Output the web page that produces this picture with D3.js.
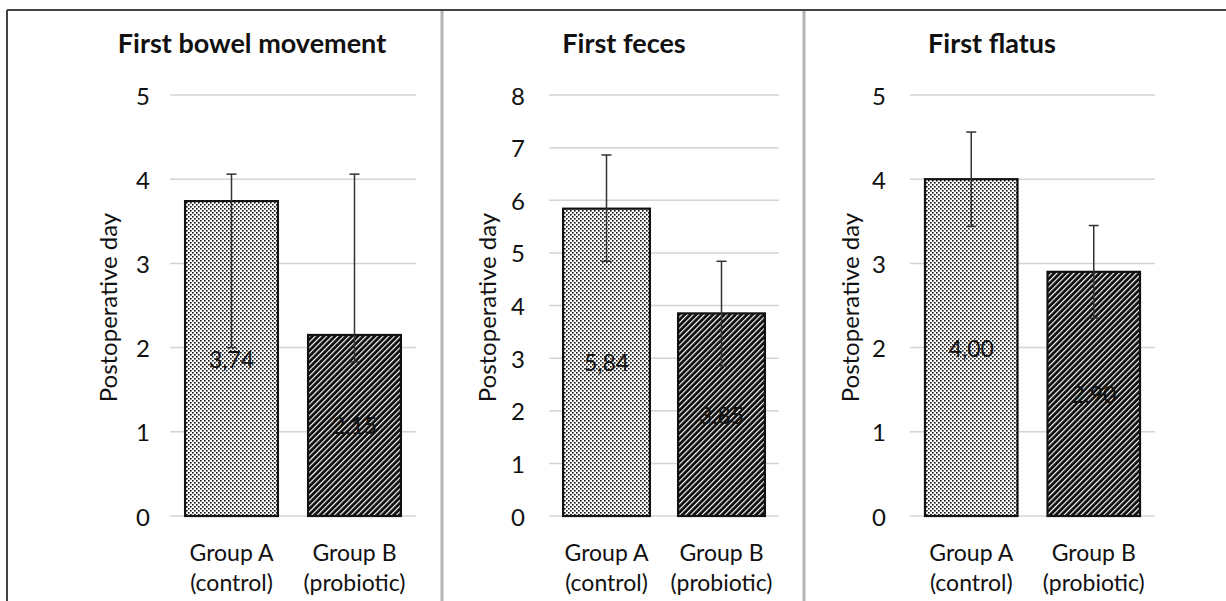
<!DOCTYPE html>
<html>
<head>
<meta charset="utf-8">
<script src="https://cdn.jsdelivr.net/npm/d3@7"></script>
<style>
  html, body { margin: 0; padding: 0; background: #fff; }
  svg { display: block; }
  text { font-family: Lato, "Open Sans", sans-serif; fill: #111; }
</style>
</head>
<body>
<svg id="chart" width="1226" height="601"></svg>
<script>
// Time to first bowel movement, feces and flatus after surgery (mean with range bars)
const panelTitles = ["First bowel movement", "First feces", "First flatus"];
const groupLine1 = ["Group A", "Group B"];
const groupLine2 = ["(control)", "(probiotic)"];
const means      = [[3.74, 2.15], [5.84, 3.85], [4.00, 2.90]];
const errUpper   = [[4.06, 4.06], [6.86, 4.84], [4.56, 3.45]];
const errLower   = [[2.00, 1.83], [4.84, 2.85], [3.44, 2.35]];
const yMax       = [5, 8, 5];
const yTitle     = "Postoperative day";

// Panel geometry (plot area left/right, title centre, tick-label and axis-title x)
const layout = [
  { left: 170, right: 416, titleX: 252, tickX: 150, axisX: 107 },
  { left: 549, right: 779, titleX: 624, tickX: 525, axisX: 486 },
  { left: 910, right: 1155, titleX: 992, tickX: 886, axisX: 849 }
];
const yBottom = 516, yTop = 95;

const svg = d3.select("#chart");
const defs = svg.append("defs");

// Dotted fill for the control group
const dots = defs.append("pattern")
  .attr("id", "dots").attr("patternUnits", "userSpaceOnUse")
  .attr("width", 4).attr("height", 4);
dots.append("rect").attr("width", 4).attr("height", 4).attr("fill", "#fff");
dots.append("rect").attr("x", 0).attr("y", 0).attr("width", 1.6).attr("height", 1.6).attr("fill", "#111");
dots.append("rect").attr("x", 2).attr("y", 2).attr("width", 1.6).attr("height", 1.6).attr("fill", "#111");

// Dense diagonal hatch for the probiotic group
const hatch = defs.append("pattern")
  .attr("id", "hatch").attr("patternUnits", "userSpaceOnUse")
  .attr("width", 4).attr("height", 4)
  .attr("patternTransform", "rotate(45)");
hatch.append("rect").attr("width", 4).attr("height", 4).attr("fill", "#0a0a0a");
hatch.append("rect").attr("x", 0).attr("y", 0).attr("width", 1.2).attr("height", 4).attr("fill", "#fff");

const fills = ["url(#dots)", "url(#hatch)"];
const fmt = v => d3.format(".2f")(v).replace(".", ",");

// Outer frame and panel separators
svg.append("line").attr("x1", 7).attr("x2", 1226).attr("y1", 10).attr("y2", 10)
  .attr("stroke", "#444").attr("stroke-width", 2);
svg.append("line").attr("x1", 7).attr("x2", 7).attr("y1", 10).attr("y2", 601)
  .attr("stroke", "#444").attr("stroke-width", 2);
[442, 804].forEach(x => {
  svg.append("line").attr("x1", x).attr("x2", x).attr("y1", 11).attr("y2", 601)
    .attr("stroke", "#b3b3b3").attr("stroke-width", 3);
});

panelTitles.forEach((title, p) => {
  const L = layout[p];
  const g = svg.append("g");

  const y = d3.scaleLinear().domain([0, yMax[p]]).range([yBottom, yTop]);
  const x = d3.scaleBand().domain(groupLine1).range([L.left, L.right])
    .paddingInner(0.245).paddingOuter(0.1225);

  // Gridlines
  g.selectAll(".grid").data(y.ticks(yMax[p])).join("line")
    .attr("x1", L.left).attr("x2", L.right)
    .attr("y1", d => y(d)).attr("y2", d => y(d))
    .attr("stroke", "#d4d4d4").attr("stroke-width", 1.5);

  // Tick labels
  g.selectAll(".tick").data(y.ticks(yMax[p])).join("text")
    .attr("x", L.tickX).attr("y", d => y(d))
    .attr("text-anchor", "end").attr("dominant-baseline", "central")
    .style("font-size", "24px")
    .text(d => d);

  // Axis title
  g.append("text")
    .attr("transform", `translate(${L.axisX},${(yTop + yBottom) / 2 + 2}) rotate(-90)`)
    .attr("text-anchor", "middle").attr("dominant-baseline", "central")
    .style("font-size", "24px")
    .text(yTitle);

  // Panel title
  g.append("text")
    .attr("x", L.titleX).attr("y", 53)
    .attr("text-anchor", "middle")
    .style("font-size", "27px").style("font-weight", "bold")
    .text(title);

  const rows = groupLine1.map((k, i) => ({
    key: k, i, v: means[p][i], hi: errUpper[p][i], lo: errLower[p][i]
  }));

  // Bars
  g.selectAll(".bar").data(rows).join("rect")
    .attr("x", d => x(d.key)).attr("width", x.bandwidth())
    .attr("y", d => y(d.v)).attr("height", d => y(0) - y(d.v))
    .attr("fill", d => fills[d.i])
    .attr("stroke", "#111").attr("stroke-width", 2.2);

  // Error bars with caps
  const cx = d => x(d.key) + x.bandwidth() / 2;
  g.selectAll(".err").data(rows).join("line")
    .attr("x1", cx).attr("x2", cx)
    .attr("y1", d => y(d.hi)).attr("y2", d => y(d.lo))
    .attr("stroke", "#333").attr("stroke-width", 1.5);
  ["hi", "lo"].forEach(end => {
    g.selectAll(".cap-" + end).data(rows).join("line")
      .attr("x1", d => cx(d) - 5).attr("x2", d => cx(d) + 5)
      .attr("y1", d => y(d[end])).attr("y2", d => y(d[end]))
      .attr("stroke", "#333").attr("stroke-width", 1.5);
  });

  // Value labels in the middle of each bar
  g.selectAll(".val").data(rows).join("text")
    .attr("x", cx).attr("y", d => (y(d.v) + y(0)) / 2)
    .attr("text-anchor", "middle").attr("dominant-baseline", "central")
    .style("font-size", "23px")
    .text(d => fmt(d.v));

  // Category labels (two lines)
  g.selectAll(".cat1").data(rows).join("text")
    .attr("x", cx).attr("y", 561)
    .attr("text-anchor", "middle")
    .style("font-size", "23px")
    .text(d => groupLine1[d.i]);
  g.selectAll(".cat2").data(rows).join("text")
    .attr("x", cx).attr("y", 591)
    .attr("text-anchor", "middle")
    .style("font-size", "23px")
    .text(d => groupLine2[d.i]);
});
</script>
</body>
</html>
